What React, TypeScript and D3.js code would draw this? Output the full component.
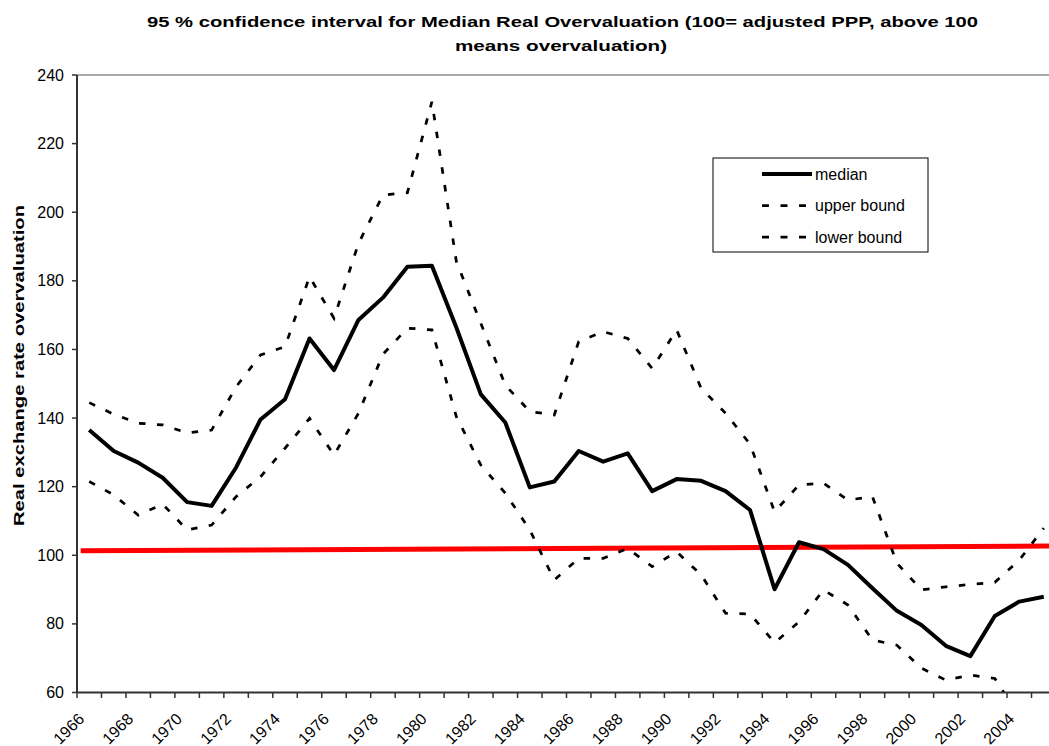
import React from 'react';
import * as d3 from 'd3';

const years = [1966, 1967, 1968, 1969, 1970, 1971, 1972, 1973, 1974, 1975, 1976, 1977, 1978, 1979, 1980, 1981, 1982, 1983, 1984, 1985, 1986, 1987, 1988, 1989, 1990, 1991, 1992, 1993, 1994, 1995, 1996, 1997, 1998, 1999, 2000, 2001, 2002, 2003, 2004, 2005];

const median = [136.5, 130.4, 127.0, 122.6, 115.5, 114.4, 125.6, 139.6, 145.5, 163.2, 154.0, 168.6, 175.1, 184.1, 184.4, 166.4, 146.9, 138.7, 119.8, 121.5, 130.4, 127.3, 129.7, 118.7, 122.2, 121.7, 118.7, 113.2, 90.1, 103.8, 101.8, 97.2, 90.4, 83.8, 79.7, 73.6, 70.6, 82.3, 86.5, 87.9];

const upperBound = [144.5, 141.1, 138.5, 138.0, 135.7, 136.5, 149.1, 158.4, 160.8, 181.2, 169.1, 190.9, 205.0, 205.7, 232.2, 185.6, 167.6, 149.6, 141.9, 140.9, 162.3, 165.2, 163.2, 154.5, 165.7, 148.7, 141.4, 132.4, 112.7, 120.5, 121.0, 116.1, 117.1, 97.7, 89.9, 90.8, 91.5, 92.1, 98.6, 107.9];

const lowerBound = [121.5, 117.6, 111.7, 114.9, 107.4, 108.8, 117.1, 122.9, 131.2, 139.9, 129.2, 141.4, 158.6, 166.2, 165.7, 140.4, 126.3, 118.1, 107.4, 92.8, 99.1, 99.1, 102.0, 96.7, 101.0, 94.3, 83.1, 82.9, 74.5, 80.6, 89.9, 85.5, 75.3, 73.8, 67.1, 63.6, 65.1, 64.1, 53.0, 56.0];

// adjusted PPP reference line (position in category units from the left edge, value)
const pppLine = [
  { pos: 0.15, value: 101.3 },
  { pos: 39.75, value: 102.7 },
];

const yTicks = [60, 80, 100, 120, 140, 160, 180, 200, 220, 240];
const xLabelYears = [1966, 1968, 1970, 1972, 1974, 1976, 1978, 1980, 1982, 1984, 1986, 1988, 1990, 1992, 1994, 1996, 1998, 2000, 2002, 2004];

const titleLines = [
  '95 % confidence interval for Median Real Overvaluation (100= adjusted PPP, above 100',
  'means overvaluation)',
];
const yTitle = 'Real exchange rate overvaluation';
const legendItems = [
  { label: 'median', dashed: false },
  { label: 'upper bound', dashed: true },
  { label: 'lower bound', dashed: true },
];

const W = 1049;
const H = 746;
const left = 77;
const right = 1056;
const top = 75;
const bottom = 692.5;
const FONT = '"Liberation Sans", Arial, Helvetica, sans-serif';

export default function App() {
  const xi = d3.scaleLinear().domain([0, years.length]).range([left, right]);
  const y = d3.scaleLinear().domain([60, 240]).range([bottom, top]);
  const cx = (i: number) => xi(i + 0.5);

  const line = d3
    .line<number>()
    .x((_, i) => cx(i))
    .y((d) => y(d));

  const pppGen = d3
    .line<{ pos: number; value: number }>()
    .x((d) => xi(d.pos))
    .y((d) => y(d.value));

  const boundaries = d3.range(0, years.length + 1);
  const dash = '6.5 11.5';

  return (
    <svg
      width={W}
      height={H}
      style={{ position: 'absolute', left: 0, top: 0, background: '#fff' }}
      fontFamily={FONT}
    >
      <defs>
        <clipPath id="plotClip">
          <rect x={left} y={top} width={right - left} height={bottom - top} />
        </clipPath>
      </defs>
      <rect x={0} y={0} width={W} height={H} fill="#fff" />

      {/* title */}
      <text x={147} y={27} fontSize={15.5} fontWeight="bold" textLength={831} lengthAdjust="spacingAndGlyphs">
        {titleLines[0]}
      </text>
      <text x={455} y={51} fontSize={15.5} fontWeight="bold" textLength={212} lengthAdjust="spacingAndGlyphs">
        {titleLines[1]}
      </text>

      {/* y title */}
      <text
        transform={`translate(24, 526) rotate(-90)`}
        fontSize={15}
        fontWeight="bold"
        textLength={321}
        lengthAdjust="spacingAndGlyphs"
      >
        {yTitle}
      </text>

      {/* plot area top border */}
      <line x1={left} x2={right} y1={top} y2={top} stroke="#8c8c8c" strokeWidth={1.5} />

      {/* series */}
      <g clipPath="url(#plotClip)">
        <path d={pppGen(pppLine) || ''} fill="none" stroke="#ff0000" strokeWidth={5} />
        <path d={line(upperBound) || ''} fill="none" stroke="#000" strokeWidth={2.75} strokeDasharray={dash} />
        <path d={line(lowerBound) || ''} fill="none" stroke="#000" strokeWidth={2.75} strokeDasharray={dash} />
        <path d={line(median) || ''} fill="none" stroke="#000" strokeWidth={4} strokeLinejoin="round" />
      </g>

      {/* y axis */}
      <line x1={left} x2={left} y1={top} y2={bottom} stroke="#333" strokeWidth={2} />
      {yTicks.map((t) => (
        <g key={t}>
          <line x1={left - 5} x2={left} y1={y(t)} y2={y(t)} stroke="#333" strokeWidth={1.5} />
          <text x={64} y={y(t)} dy="0.35em" textAnchor="end" fontSize={16} fill="#000">
            {t}
          </text>
        </g>
      ))}

      {/* x axis */}
      <line x1={left} x2={right} y1={bottom} y2={bottom} stroke="#333" strokeWidth={2} />
      {boundaries.map((b) => (
        <line key={b} x1={xi(b)} x2={xi(b)} y1={bottom} y2={bottom + 5.5} stroke="#333" strokeWidth={1.5} />
      ))}
      {xLabelYears.map((yr) => {
        const i = years.indexOf(yr);
        return (
          <text
            key={yr}
            transform={`translate(${cx(i) - 4}, 720) rotate(-45)`}
            textAnchor="end"
            fontSize={16}
            fill="#000"
          >
            {yr}
          </text>
        );
      })}

      {/* legend */}
      <rect x={713} y={158} width={215} height={94} fill="#fff" stroke="#000" strokeWidth={1} />
      {legendItems.map((it, k) => {
        const ly = 174 + k * 31.5;
        return (
          <g key={it.label}>
            <line
              x1={762}
              x2={812}
              y1={ly}
              y2={ly}
              stroke="#000"
              strokeWidth={it.dashed ? 2.75 : 4}
              strokeDasharray={it.dashed ? '7 11.5' : undefined}
            />
            <text x={815} y={ly} dy="0.35em" fontSize={16} fill="#000">
              {it.label}
            </text>
          </g>
        );
      })}
    </svg>
  );
}
